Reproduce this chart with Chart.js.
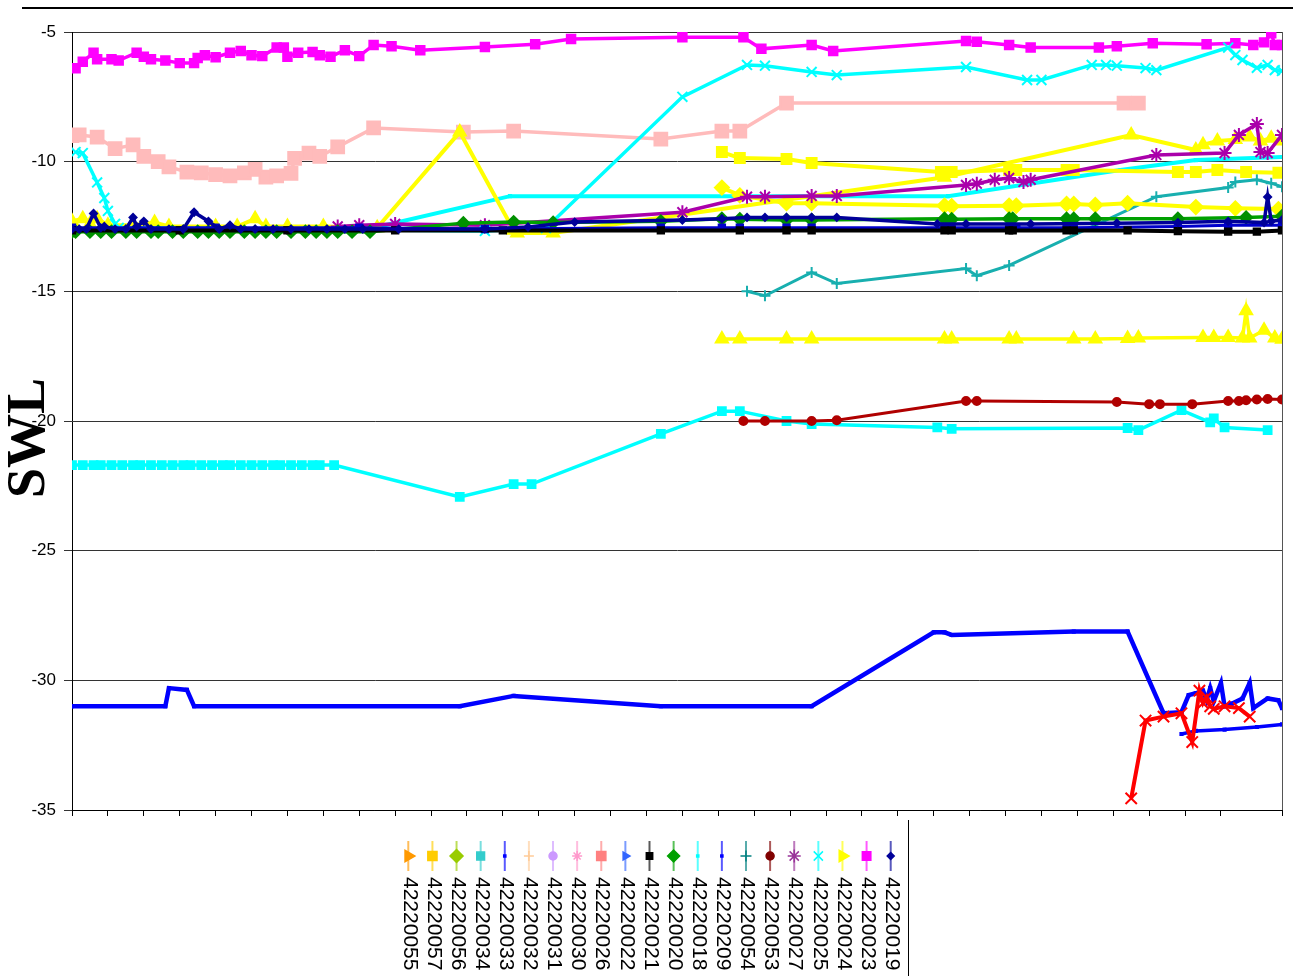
<!DOCTYPE html>
<html>
<head>
<meta charset="utf-8">
<title>SWL</title>
<script src="https://cdn.jsdelivr.net/npm/chart.js@4.4.1/dist/chart.umd.min.js"></script>
<style>
  html, body { margin: 0; padding: 0; background: #fff; }
</style>
</head>
<body>
<canvas id="swlChart" width="1293" height="976"></canvas>
<script>
// each reading: [day, SWL]
const s42220023 = [[1,-6.4],[3,-6.15],[6,-5.8],[7,-6.05],[11,-6.05],[13,-6.1],[18,-5.8],[20,-5.95],[22,-6.05],[26,-6.1],[30,-6.2],[34,-6.2],[35,-6.0],[37,-5.9],[40,-5.97],[44,-5.8],[47,-5.73],[50,-5.9],[53,-5.93],[57,-5.6],[59,-5.6],[60,-5.95],[63,-5.8],[67,-5.77],[69,-5.9],[72,-5.95],[76,-5.7],[80,-5.93],[84,-5.5],[89,-5.55],[97,-5.7],[115,-5.58],[129,-5.47],[139,-5.27],[170,-5.2],[187,-5.2],[192,-5.65],[206,-5.5],[212,-5.73],[249,-5.35],[252,-5.38],[261,-5.5],[267,-5.6],[286,-5.6],[291,-5.55],[301,-5.43],[316,-5.47],[324,-5.43],[329,-5.5],[332,-5.4],[334,-5.05],[335,-5.5],[337,-5.5]];
const s42220026 = [[0,-9.0],[2,-8.97],[7,-9.05],[12,-9.5],[17,-9.35],[20,-9.8],[24,-10.0],[27,-10.2],[32,-10.4],[36,-10.43],[40,-10.5],[44,-10.55],[48,-10.43],[51,-10.3],[54,-10.6],[57,-10.55],[61,-10.45],[62,-9.87],[66,-9.67],[69,-9.8],[74,-9.43],[84,-8.7],[109,-8.86],[123,-8.82],[164,-9.13],[181,-8.82],[186,-8.82],[199,-7.74],[293,-7.74],[297,-7.74]];
const s42220025 = [[1,-9.63],[3,-9.67],[7,-10.8],[9,-11.4],[10,-11.9],[12,-12.4],[13,-12.55],[115,-12.67],[132,-12.56],[170,-7.5],[188,-6.27],[193,-6.3],[206,-6.54],[213,-6.66],[249,-6.35],[266,-6.85],[270,-6.85],[284,-6.27],[288,-6.27],[291,-6.3],[299,-6.39],[302,-6.47],[322,-5.6],[324,-5.89],[326,-6.08],[330,-6.38],[333,-6.27],[335,-6.47],[337,-6.5]];
const s42220024 = [[0,-12.3],[3,-12.2],[5,-12.4],[7,-12.2],[10,-12.45],[17,-12.45],[23,-12.35],[27,-12.5],[40,-12.5],[46,-12.5],[51,-12.2],[54,-12.5],[60,-12.5],[70,-12.5],[85,-12.55],[108,-8.86],[123,-12.64],[124,-12.75],[134,-12.75],[243,-10.6],[295,-8.97],[313,-9.55],[315,-9.35],[319,-9.2],[324,-9.15],[328,-9.05],[331,-9.2],[334,-9.1],[337,-9.2]];
const s42220057 = [[181,-9.63],[186,-9.86],[199,-9.9],[206,-10.05],[242,-10.4],[245,-10.4],[261,-10.32],[263,-10.32],[277,-10.32],[279,-10.32],[308,-10.4],[313,-10.4],[319,-10.32],[327,-10.4],[336,-10.43]];
const s42220056 = [[181,-11.0],[186,-11.3],[199,-11.6],[206,-11.6],[243,-11.7],[245,-11.72],[261,-11.7],[263,-11.7],[277,-11.63],[279,-11.63],[285,-11.67],[294,-11.6],[313,-11.75],[324,-11.8],[336,-11.83]];
const s42220055 = [[181,-16.84],[186,-16.84],[199,-16.84],[206,-16.84],[243,-16.84],[245,-16.84],[261,-16.84],[263,-16.84],[279,-16.84],[285,-16.84],[294,-16.82],[297,-16.8],[315,-16.78],[318,-16.78],[322,-16.78],[326,-16.8],[327,-15.75],[328,-16.8],[332,-16.5],[335,-16.8],[337,-16.85]];
const s42220018 = [[85,-12.52],[122,-11.33],[244,-11.33],[292,-10.32],[313,-9.94],[337,-9.82]];
const s42220027 = [[74,-12.5],[80,-12.45],[90,-12.4],[115,-12.45],[170,-11.95],[188,-11.35],[193,-11.35],[206,-11.32],[213,-11.32],[249,-10.9],[252,-10.85],[257,-10.7],[261,-10.63],[265,-10.78],[267,-10.7],[302,-9.74],[321,-9.67],[325,-8.97],[330,-8.55],[331,-9.63],[333,-9.67],[337,-8.97]];
const s42220054 = [[188,-15.0],[193,-15.17],[206,-14.27],[213,-14.7],[249,-14.12],[252,-14.4],[261,-14.0],[302,-11.35],[322,-11.0],[324,-10.78],[330,-10.7],[334,-10.83],[337,-10.97]];
const s42220053 = [[187,-20.0],[193,-20.0],[206,-20.0],[213,-19.97],[249,-19.23],[252,-19.23],[291,-19.27],[300,-19.35],[303,-19.35],[312,-19.35],[322,-19.23],[325,-19.23],[327,-19.2],[330,-19.17],[333,-19.15],[337,-19.17]];
const s42220034 = [[0,-21.7],[3,-21.7],[6,-21.7],[8,-21.7],[11,-21.7],[14,-21.7],[17,-21.7],[19,-21.7],[22,-21.7],[25,-21.7],[28,-21.7],[31,-21.7],[33,-21.7],[36,-21.7],[39,-21.7],[42,-21.7],[44,-21.7],[47,-21.7],[50,-21.7],[53,-21.7],[56,-21.7],[58,-21.7],[61,-21.7],[64,-21.7],[67,-21.7],[69,-21.7],[73,-21.7],[108,-22.93],[123,-22.43],[128,-22.43],[164,-20.5],[181,-19.62],[186,-19.62],[199,-20.0],[206,-20.12],[241,-20.25],[245,-20.3],[294,-20.27],[297,-20.35],[309,-19.58],[317,-20.05],[318,-19.9],[321,-20.25],[333,-20.35]];
const s42220209 = [[0,-31.0],[26,-31.0],[27,-30.3],[32,-30.37],[34,-31.0],[108,-31.0],[123,-30.6],[164,-31.0],[206,-31.0],[240,-28.15],[243,-28.15],[245,-28.25],[279,-28.12],[294,-28.12],[304,-31.27],[309,-31.23],[311,-30.57],[313,-30.5],[315,-30.4],[316,-30.77],[317,-30.3],[318,-30.8],[320,-30.1],[321,-31.0],[323,-30.9],[326,-30.7],[328,-30.1],[329,-31.07],[333,-30.7],[336,-30.77],[337,-31.07]];
const s42220033 = [[309,-32.07],[313,-31.95],[321,-31.9],[330,-31.8],[337,-31.7]];
const sRed = [[295,-34.55],[299,-31.55],[304,-31.4],[309,-31.27],[312,-32.38],[314,-30.4],[315,-30.88],[316,-30.65],[317,-31.0],[318,-31.1],[321,-31.0],[325,-31.07],[328,-31.4]];
const s42220020 = [[0,-12.7],[1,-12.7],[5,-12.7],[8,-12.7],[11,-12.7],[15,-12.7],[18,-12.7],[22,-12.7],[24,-12.7],[28,-12.7],[31,-12.7],[35,-12.7],[38,-12.7],[41,-12.7],[44,-12.7],[48,-12.7],[51,-12.7],[54,-12.7],[57,-12.7],[61,-12.7],[65,-12.7],[68,-12.7],[71,-12.7],[74,-12.7],[78,-12.7],[83,-12.7],[109,-12.37],[123,-12.33],[134,-12.35],[164,-12.3],[181,-12.2],[186,-12.22],[199,-12.25],[206,-12.25],[243,-12.2],[245,-12.22],[261,-12.2],[262,-12.2],[277,-12.2],[279,-12.2],[285,-12.2],[308,-12.2],[327,-12.15],[337,-12.1]];
const s42220019 = [[0,-12.6],[2,-12.6],[4,-12.6],[6,-12.0],[8,-12.55],[9,-12.5],[12,-12.6],[15,-12.6],[17,-12.15],[18,-12.5],[20,-12.3],[22,-12.6],[27,-12.6],[31,-12.6],[34,-11.95],[38,-12.3],[41,-12.6],[44,-12.45],[47,-12.6],[51,-12.6],[56,-12.6],[61,-12.6],[66,-12.6],[71,-12.6],[76,-12.6],[81,-12.6],[91,-12.6],[115,-12.6],[127,-12.52],[140,-12.33],[170,-12.25],[181,-12.2],[188,-12.15],[193,-12.15],[199,-12.15],[206,-12.15],[213,-12.15],[241,-12.4],[249,-12.4],[267,-12.4],[291,-12.37],[308,-12.35],[322,-12.3],[332,-12.35],[333,-11.36],[334,-12.3],[337,-12.25]];
const s42220021 = [[0,-12.65],[30,-12.65],[60,-12.65],[90,-12.65],[120,-12.65],[164,-12.65],[186,-12.65],[199,-12.65],[206,-12.65],[243,-12.65],[245,-12.65],[261,-12.65],[262,-12.65],[277,-12.65],[279,-12.65],[294,-12.65],[308,-12.68],[322,-12.7],[330,-12.7],[337,-12.65]];
const s42220022 = [[0,-12.55],[40,-12.55],[80,-12.55],[115,-12.6],[164,-12.55],[181,-12.55],[186,-12.55],[199,-12.55],[206,-12.55],[243,-12.55],[245,-12.55],[261,-12.55],[263,-12.55],[277,-12.55],[279,-12.55],[308,-12.5],[322,-12.45],[337,-12.45]];
const s42220030 = [];
const s42220031 = [];
const s42220032 = [];

const yTicks = [-35, -30, -25, -20, -15, -10, -5];
const legendOrder = ['42220055','42220057','42220056','42220034','42220033','42220032','42220031','42220030','42220026','42220022','42220021','42220020','42220018','42220209','42220054','42220053','42220027','42220025','42220024','42220023','42220019'];

// first in list is drawn on top
const series = [
  { label: '42220019', data: s42220019, color: '#000099', marker: 'rectRot', r: 3.5, w: 3.5 },
  { label: '42220021', data: s42220021, color: '#000000', marker: 'rect', r: 4.5, w: 4 },
  { label: '42220022', data: s42220022, color: '#0000CC', marker: 'rect', r: 4.5, w: 3, legend: '#3366FF', legendMarker: 'triangle' },
  { label: '42220020', data: s42220020, color: '#00A000', marker: 'rectRot', r: 6, w: 3.5, markerColor: '#009000' },
  { label: '42220025', data: s42220025, color: '#00FFFF', marker: 'crossRot', r: 7, w: 3.5 },
  { label: '42220023', data: s42220023, color: '#FF00FF', marker: 'rect', r: 6, w: 3.5 },
  { label: '42220027', data: s42220027, color: '#AA00AA', marker: 'star', r: 7, w: 3.5, legend: '#993399' },
  { label: '42220024', data: s42220024, color: '#FFFF00', marker: 'triangle', r: 7, w: 4 },
  { label: '42220057', data: s42220057, color: '#FFFF00', marker: 'rect', r: 7, w: 4, legend: '#FFCC00' },
  { label: '42220056', data: s42220056, color: '#FFFF00', marker: 'rectRot', r: 7, w: 4, legend: '#99CC00' },
  { label: '42220018', data: s42220018, color: '#00FFFF', marker: 'rect', r: 1.5, w: 4 },
  { label: '42220054', data: s42220054, color: '#18AFAF', marker: 'cross', r: 5.5, w: 3, legend: '#008080' },
  { label: '42220026', data: s42220026, color: '#FFBBBB', marker: 'rect', r: 9, w: 3.5, legend: '#FF8080' },
  { label: '42220055', data: s42220055, color: '#FFFF00', marker: 'triangle', r: 7, w: 3.5, legend: '#FF9900' },
  { label: '42220053', data: s42220053, color: '#B00000', marker: 'circle', r: 4, w: 3, legend: '#800000' },
  { label: '42220034', data: s42220034, color: '#00FFFF', marker: 'rect', r: 5.5, w: 3.5, legend: '#33CCCC' },
  { label: 'red', data: sRed, color: '#FF0000', marker: 'crossRot', r: 8, w: 4, noLegend: true },
  { label: '42220209', data: s42220209, color: '#0000FF', marker: 'rect', r: 1.5, w: 4.5 },
  { label: '42220033', data: s42220033, color: '#0000FF', marker: 'rect', r: 1.5, w: 3.5 },
  { label: '42220030', data: s42220030, color: '#FF99CC', marker: 'star', r: 5, w: 2 },
  { label: '42220031', data: s42220031, color: '#CC99FF', marker: 'circle', r: 4, w: 2 },
  { label: '42220032', data: s42220032, color: '#FFCC99', marker: 'cross', r: 5, w: 2 }
];

const pts = a => a.map(p => ({ x: p[0], y: p[1] }));

const datasets = series.map(s => ({
  label: s.label,
  data: pts(s.data),
  borderColor: s.color,
  backgroundColor: s.markerColor || s.color,
  pointBorderColor: s.markerColor || s.color,
  pointBackgroundColor: s.markerColor || s.color,
  pointStyle: s.marker,
  pointRadius: s.r,
  pointBorderWidth: 2,
  borderWidth: s.w,
  tension: 0,
  fill: false
}));

const extras = {
  id: 'extras',
  afterDraw(chart) {
    const ctx = chart.ctx;
    const area = chart.chartArea;
    ctx.save();
    // chart frame line on top
    ctx.strokeStyle = '#000';
    ctx.lineWidth = 2;
    ctx.beginPath();
    ctx.moveTo(22, 8);
    ctx.lineTo(chart.width, 8);
    ctx.stroke();
    // right side of plot area
    ctx.strokeStyle = '#555';
    ctx.lineWidth = 1;
    ctx.beginPath();
    ctx.moveTo(area.right + 0.5, area.top);
    ctx.lineTo(area.right + 0.5, area.bottom);
    ctx.stroke();

    // axis title
    ctx.save();
    ctx.translate(30, (area.top + area.bottom) / 2 + 17);
    ctx.rotate(-Math.PI / 2);
    ctx.fillStyle = '#000';
    ctx.font = 'bold 54px "Liberation Serif", "Times New Roman", serif';
    ctx.textAlign = 'center';
    ctx.textBaseline = 'middle';
    ctx.fillText('SWL', 0, 0);
    ctx.restore();

    // legend, written downwards
    const x0 = 408.3, step = 24.12, top = area.bottom + 31;
    const drawPt = Chart.helpers && Chart.helpers.drawPoint;
    legendOrder.forEach((lab, i) => {
      const s = series.find(d => d.label === lab);
      const cx = x0 + i * step;
      const col = s.legend || s.color;
      ctx.save();
      ctx.globalAlpha = 0.65;
      ctx.strokeStyle = col;
      ctx.lineWidth = 2;
      ctx.beginPath();
      ctx.moveTo(cx, top);
      ctx.lineTo(cx, top + 30);
      ctx.stroke();
      ctx.restore();
      ctx.fillStyle = col;
      ctx.strokeStyle = col;
      ctx.lineWidth = 1.5;
      const r = Math.min(s.r, 6.5);
      if (drawPt) {
        drawPt(ctx, { pointStyle: s.legendMarker || s.marker, radius: r, rotation: 90, borderWidth: 1.5 }, cx, top + 15);
      } else {
        ctx.fillRect(cx - r / 2, top + 15 - r / 2, r, r);
      }
      ctx.save();
      ctx.translate(cx + 1, top + 36);
      ctx.rotate(Math.PI / 2);
      ctx.fillStyle = '#000';
      ctx.font = '21px "Liberation Sans", Arial, sans-serif';
      ctx.textAlign = 'left';
      ctx.textBaseline = 'middle';
      ctx.fillText(lab, 0, 0);
      ctx.restore();
    });
    // legend box edge
    ctx.strokeStyle = '#000';
    ctx.lineWidth = 1;
    ctx.beginPath();
    ctx.moveTo(908.5, area.bottom + 10);
    ctx.lineTo(908.5, chart.height);
    ctx.stroke();
    ctx.restore();
  }
};

const swlChart = new Chart(document.getElementById('swlChart').getContext('2d'), {
  type: 'line',
  data: { datasets: datasets },
  options: {
    responsive: false,
    animation: false,
    devicePixelRatio: 1,
    layout: { padding: { left: 10, right: 7, top: 32, bottom: 156 } },
    plugins: {
      legend: { display: false },
      tooltip: { enabled: false }
    },
    scales: {
      x: {
        type: 'linear',
        min: 0,
        max: 337,
        ticks: { stepSize: 10, callback: () => '', padding: 0 },
        grid: { drawOnChartArea: false, drawTicks: true, tickLength: 6, color: '#000' },
        border: { color: '#000', width: 1 },
        afterFit: s => { s.height = 10; }
      },
      y: {
        min: yTicks[0],
        max: yTicks[yTicks.length - 1],
        afterBuildTicks: s => { s.ticks = yTicks.map(v => ({ value: v })); },
        ticks: {
          padding: 8,
          color: '#000',
          font: { family: '"Liberation Sans", Arial, sans-serif', size: 17 }
        },
        grid: { color: '#333', tickLength: 8 },
        border: { color: '#000', width: 1 },
        afterFit: s => { s.width = 62; }
      }
    }
  },
  plugins: [extras]
});
</script>
</body>
</html>
